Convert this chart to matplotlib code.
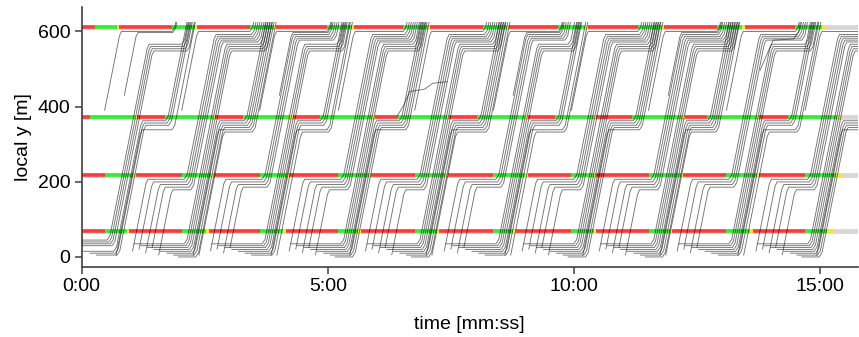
import matplotlib
matplotlib.use("Agg")
from matplotlib import pyplot as plt

plt.rcParams["font.family"] = ["Liberation Sans", "DejaVu Sans"]

# stop lines [m] and their signal plans [s]
stop_y = [612, 373, 218, 67]
green_on = [
    [16, 110, 205, 299, 392, 489, 581, 678, 774, 870],
    [10, 101, 197, 290, 386, 482, 577, 671, 762, 861],
    [28, 122, 217, 313, 406, 502, 597, 691, 786, 882],
    [28, 122, 217, 313, 406, 502, 597, 691, 786, 882],
]
green_off = [
    [43, 138, 234, 329, 422, 518, 614, 707, 805, 902],
    [65, 160, 254, 354, 445, 541, 624, 732, 823, 921],
    [63, 158, 250, 350, 443, 541, 624, 730, 823, 919],
    [55, 152, 246, 337, 433, 526, 624, 717, 815, 908],
]
plan_end = [907, 927, 927, 916]
amber = 3

# vehicle groups per cycle, times relative to the green onset of the lower lines
cycle_start = green_on[2]
n_q4 = [7, 8, 7, 8, 8, 7, 8, 8, 7, 8]
n_q3 = [0, 5, 4, 5, 5, 4, 5, 5, 4, 5]
n_thru = [1, 2, 2, 1, 2, 2, 1, 2, 2, 1]
n_side = [2, 1, 2, 1, 1, 2, 1, 2, 1, 1]

q4_pos = [44, 39, 34, 29, 24, 19, 14, 9]
q4_arrive = [-58, -50, -42, -34, -26, -18, -10, -4]
q4_leave = [3, 5, 7, 9, 11, 13, 15, 17]
top_pos_a = [566, 560, 554, 548]
mid_pos_d = [362, 356, 350, 344]

q3_pos = [206, 199, 192, 185, 178]
q3_entry_t = [-60, -52, -44, -36, -28]
q3_entry_y = [15, 20, 10, 25, 5]
q3_leave = [3, 5, 7, 9, 11]
top_pos_b = [592, 587, 582, 577, 572]

thru_entry_t = [14, 21]
mid_pos_e = [338, 332]

side_entry_t = [0, 24]
side_entry_y = [390, 430]
top_pos_side = [600, 597]

extra_paths = [
    [(385, 376), (393, 405), (400, 440), (418, 446), (428, 462), (445, 466)],
    [(827, 497), (843, 577), (868, 580), (874, 600), (876, 624)],
]

V = 11.0
TOP = 624
T_END = 960


def trip(t0, y0, stops):
    ts, ys = [t0], [y0]
    t, y = t0, y0
    for sy, tr in stops:
        if tr is None:
            tr = T_END
        tb = t + (sy - 12 - y) / V
        if tb + 2.5 < tr and sy - 12 > y:
            ts += [tb, tb + 2.5, tr, tr + 3.5]
            ys += [sy - 12, sy, sy, sy + 12]
            t, y = tr + 3.5, sy + 12
        elif sy - 12 <= y < sy + 12 and t < tr:
            ts += [tr, tr + 3.5]
            ys += [y, y + 12]
            t, y = tr + 3.5, y + 12
    ts.append(t + (TOP - y) / V)
    ys.append(TOP)
    return ts, ys


paths = []
for k, c in enumerate(cycle_start):
    nxt1 = green_on[0][k + 1] if k + 1 < len(green_on[0]) else None
    nxt2 = green_on[1][k + 1] if k + 1 < len(green_on[1]) else None

    for i in range(n_q4[k]):
        t0 = c + q4_arrive[i]
        if t0 < 0:
            start = (0, q4_pos[i])
        else:
            start = (t0, q4_pos[i] - 10)
        if i < 4:
            later = (top_pos_a[i], None if nxt1 is None else nxt1 + 12 + 2 * i)
        else:
            later = (mid_pos_d[i - 4], None if nxt2 is None else nxt2 + 1 + 2 * (i - 4))
        paths.append(trip(start[0], start[1], [(q4_pos[i], c + q4_leave[i]), later]))

    for j in range(n_q3[k]):
        paths.append(trip(c + q3_entry_t[j], q3_entry_y[j],
                          [(q3_pos[j], c + q3_leave[j]),
                           (top_pos_b[j], None if nxt1 is None else nxt1 + 2 + 2 * j)]))

    for m in range(n_thru[k]):
        paths.append(trip(c + thru_entry_t[m], 4,
                          [(mid_pos_e[m], None if nxt2 is None else nxt2 + 9 + 2 * m)]))

    for m in range(n_side[k]):
        paths.append(trip(c + side_entry_t[m], side_entry_y[m],
                          [(top_pos_side[m], None if nxt1 is None else nxt1 + m)]))

fig = plt.figure(figsize=(8.59, 3.37), dpi=100)
ax = fig.add_axes([0.0951, 0.2086, 0.9034, 0.7715])

# signal bars
for r, y in enumerate(stop_y):
    ax.plot([0, 946], [y, y], color="#d6d6d6", lw=3.4, zorder=1, solid_capstyle="butt")
    segs = [(0, green_on[r][0], "#ff3a3a")]
    n = len(green_on[r])
    for k in range(n):
        segs.append((green_on[r][k], green_off[r][k], "#2ef02e"))
        if k + 1 < n:
            segs.append((green_off[r][k], green_off[r][k] + amber, "#ffe81a"))
            segs.append((green_off[r][k] + amber, green_on[r][k + 1], "#ff3a3a"))
        else:
            segs.append((green_off[r][k], plan_end[r], "#ffe81a"))
    for a, b, col in segs:
        ax.plot([a, b], [y, y], color=col, lw=2.6, zorder=2, solid_capstyle="butt")

# trajectories
for ts, ys in paths:
    ax.plot(ts, ys, color="black", lw=0.65, alpha=0.55, zorder=3)
for p in extra_paths:
    ax.plot([q[0] for q in p], [q[1] for q in p], color="black", lw=0.65, alpha=0.55, zorder=3)

tick_secs = [0, 300, 600, 900]
tick_labels = ["0:00", "5:00", "10:00", "15:00"]
ax.set_xticks(tick_secs)
ax.set_xticklabels(tick_labels)
ax.set_yticks([0, 200, 400, 600])
ax.set_xlim(0, 946)
ax.set_ylim(-27, 666)

for s in ["top", "right"]:
    ax.spines[s].set_visible(False)
for s in ["left", "bottom"]:
    ax.spines[s].set_color("#404040")
    ax.spines[s].set_linewidth(1.2)
ax.tick_params(colors="#404040", labelcolor="black", labelsize=14, length=5, width=1.1, pad=3)
ax.set_xlabel("time [mm:ss]", fontsize=14, labelpad=15)
ax.set_ylabel("local y [m]", fontsize=14, labelpad=4)

fig.savefig("out.png", dpi=100)
